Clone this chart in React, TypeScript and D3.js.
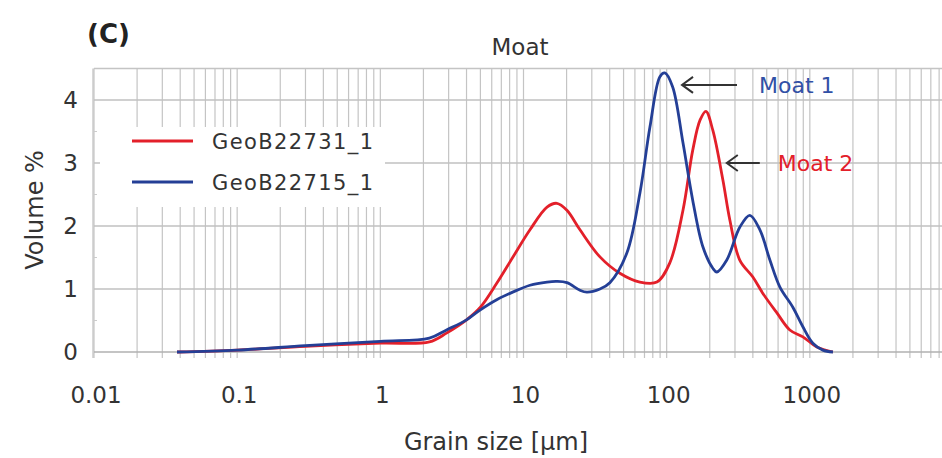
import React from 'react';
import * as d3 from 'd3';

// grain size (µm) and volume %
const redSizes = [0.038, 0.1, 0.3, 1, 2.2, 2.9, 4.0, 5.0, 6.5, 8.4, 11.1, 14.6, 17.1, 20.1, 24.8, 34.2, 47.1, 65, 85.5, 105, 130, 152, 171, 188, 210, 247, 276, 324, 400, 470, 589, 725, 894, 1120, 1450];
const redValues = [0, 0.03, 0.09, 0.14, 0.16, 0.3, 0.51, 0.71, 1.09, 1.5, 1.94, 2.3, 2.36, 2.25, 1.94, 1.51, 1.25, 1.11, 1.11, 1.41, 2.25, 3.2, 3.68, 3.82, 3.52, 2.73, 2.1, 1.46, 1.19, 0.93, 0.62, 0.35, 0.24, 0.08, 0];

const blueSizes = [0.038, 0.1, 0.3, 1, 2.2, 2.9, 4.0, 5.0, 6.5, 8.4, 11.1, 14.6, 17.1, 20.1, 24.8, 27.7, 34.2, 40.1, 52.7, 65, 76.4, 89.7, 97.1, 110, 130, 152, 179, 210, 224, 263, 324, 381, 448, 526, 618, 761, 894, 1050, 1233, 1450];
const blueValues = [0, 0.03, 0.1, 0.17, 0.22, 0.35, 0.51, 0.67, 0.83, 0.95, 1.06, 1.11, 1.12, 1.1, 0.98, 0.95, 1.0, 1.1, 1.57, 2.52, 3.57, 4.37, 4.43, 4.21, 3.32, 2.41, 1.67, 1.33, 1.27, 1.46, 1.98, 2.17, 1.94, 1.46, 1.03, 0.71, 0.4, 0.14, 0.03, 0];

const seriesNames = ['GeoB22731_1', 'GeoB22715_1'];
const seriesColors = ['#e3202a', '#243f96'];

const xTickValues = [0.01, 0.1, 1, 10, 100, 1000];
const xTickLabels = ['0.01', '0.1', '1', '10', '100', '1000'];
const yTickValues = [0, 1, 2, 3, 4];
const yMinorTicks = [0.5, 1.5, 2.5, 3.5];

const annotations = [
  { label: 'Moat 1', size: 128, value: 4.24, length: 55, gap: 22, color: '#3150a6' },
  { label: 'Moat 2', size: 263, value: 3.0, length: 33, gap: 18, color: '#e3202a' },
];

const W = 942;
const H = 458;
const FONT = 'DejaVu Sans, sans-serif';

export default function App() {
  const x = d3.scaleLog().domain([0.01, 10000]).range([94, 953]);
  const y = d3.scaleLinear().domain([0, 4.5]).range([352, 68.5]);

  const line = d3.line<[number, number]>()
    .x(d => x(d[0]))
    .y(d => y(d[1]))
    .curve(d3.curveCatmullRom.alpha(0.5));

  const series = [
    redSizes.map((s, i) => [s, redValues[i]] as [number, number]),
    blueSizes.map((s, i) => [s, blueValues[i]] as [number, number]),
  ];

  const gridX = x.ticks();

  return (
    <svg width={W} height={H} style={{ position: 'absolute', left: 0, top: 0, background: '#fff' }}
      fontFamily={FONT}>
      {/* vertical log grid */}
      {gridX.map((t, i) => (
        <line key={'gx' + i} x1={x(t)} x2={x(t)} y1={y(4.5)} y2={y(0) + 6}
          stroke="#c4c4c4" strokeWidth={1.2} />
      ))}
      {/* horizontal grid */}
      {yTickValues.map(t => (
        <line key={'gy' + t} x1={x(0.01)} x2={W} y1={y(t)} y2={y(t)}
          stroke={t === 0 ? '#b0b0b0' : '#c0c0c0'} strokeWidth={1.3} />
      ))}
      <line x1={x(0.01)} x2={W} y1={y(4.5)} y2={y(4.5)} stroke="#c4c4c4" strokeWidth={1.3} />
      <line x1={x(0.01) - 1} x2={x(0.01) - 1} y1={y(4.5)} y2={y(0) + 6} stroke="#c4c4c4" strokeWidth={1.3} />
      {yMinorTicks.map(t => (
        <line key={'my' + t} x1={x(0.01) - 1} x2={x(0.01) + 3} y1={y(t)} y2={y(t)} stroke="#cccccc" />
      ))}

      {/* legend background */}
      <rect x={100} y={127} width={285} height={80} fill="#fff" />

      {/* curves */}
      {series.map((d, i) => (
        <path key={'s' + i} d={line(d) || ''} fill="none" stroke={seriesColors[i]}
          strokeWidth={2.8} strokeLinejoin="round" />
      ))}

      {/* legend */}
      {seriesNames.map((n, i) => (
        <g key={'lg' + i} transform={`translate(132,${141 + i * 41})`}>
          <line x1={0} x2={61} y1={0} y2={0} stroke={seriesColors[i]} strokeWidth={3} />
          <text x={80} y={8} fontSize={21} letterSpacing={1.4} fill="#333">{n}</text>
        </g>
      ))}

      {/* annotations */}
      {annotations.map((a, i) => {
        const tx = x(a.size);
        const ty = y(a.value);
        return (
          <g key={'an' + i}>
            <path d={`M${tx + a.length},${ty} L${tx},${ty} M${tx + 11},${ty - 8} L${tx},${ty} L${tx + 11},${ty + 8}`}
              fill="none" stroke="#333" strokeWidth={2} />
            <text x={tx + a.length + a.gap} y={ty + 8} fontSize={22} fill={a.color}>{a.label}</text>
          </g>
        );
      })}

      {/* y tick labels */}
      {yTickValues.map(t => (
        <text key={'yl' + t} x={78} y={y(t)} dy="0.36em" textAnchor="end" fontSize={23} fill="#333">{t}</text>
      ))}
      {/* x tick labels */}
      {xTickValues.map((t, i) => (
        <text key={'xl' + t} x={x(t) + 2} y={403} textAnchor="middle" fontSize={23} fill="#333">{xTickLabels[i]}</text>
      ))}

      {/* titles */}
      <text x={87} y={43} fontSize={26} fontWeight="bold" fill="#222">(C)</text>
      <text x={520} y={55} textAnchor="middle" fontSize={23} fill="#333">Moat</text>
      <text x={496} y={450} textAnchor="middle" fontSize={24} fill="#333">Grain size [µm]</text>
      <text transform="translate(43,210) rotate(-90)" textAnchor="middle" fontSize={24} fill="#333">Volume %</text>
    </svg>
  );
}
